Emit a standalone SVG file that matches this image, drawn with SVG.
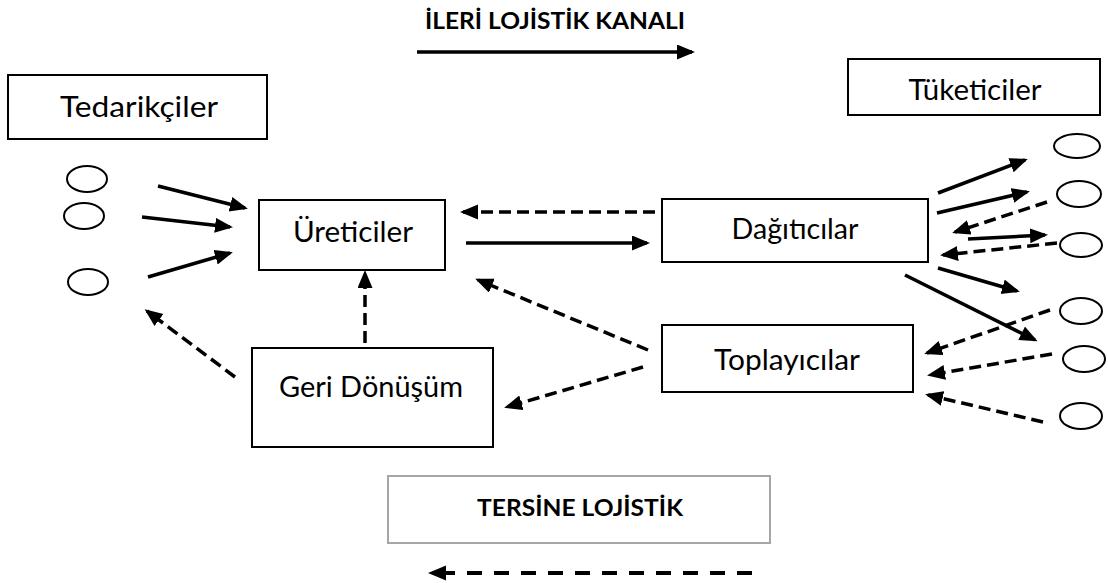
<svg xmlns="http://www.w3.org/2000/svg" width="1108" height="583" viewBox="0 0 1108 583">
<style>
.box{fill:#fff;stroke:#000;stroke-width:2}
.lbl{font-family:Lato,"Open Sans",sans-serif;font-size:28px;fill:#000;text-anchor:middle}
.hdr{font-family:Lato,"Open Sans",sans-serif;font-size:22px;font-weight:bold;fill:#000;text-anchor:middle}
.ell{fill:#fff;stroke:#000;stroke-width:2}
.sol{stroke:#000;stroke-width:3.5;fill:none;marker-end:url(#ah)}
.dsh{stroke:#000;stroke-width:3.5;fill:none;stroke-dasharray:12 6;marker-end:url(#ah)}
</style>
<defs>
<marker id="ah" markerUnits="userSpaceOnUse" markerWidth="18" markerHeight="16" refX="15" refY="7.5" orient="auto">
<path d="M0,0 L18,7.5 L0,15 z" fill="#000"/>
</marker>
</defs>
<rect width="1108" height="583" fill="#fff"/>

<g id="title">
<text class="hdr" x="555" y="29" textLength="260" lengthAdjust="spacingAndGlyphs">İLERİ LOJİSTİK KANALI</text>
</g>

<g id="tedarikciler">
<rect class="box" x="8" y="75" width="259" height="64"/>
<text class="lbl" x="139" y="117" textLength="158" lengthAdjust="spacingAndGlyphs">Tedarikçiler</text>
</g>
<g id="tedarikci-nodes">
<ellipse class="ell" cx="87" cy="179" rx="20" ry="13"/>
<ellipse class="ell" cx="84" cy="216" rx="20" ry="13"/>
<ellipse class="ell" cx="88" cy="282" rx="20" ry="13"/>
</g>

<g id="ureticiler">
<rect class="box" x="259" y="200" width="186" height="70"/>
<text class="lbl" x="353" y="242" textLength="120" lengthAdjust="spacingAndGlyphs">Üreticiler</text>
</g>

<g id="dagiticilar">
<rect class="box" x="662" y="199" width="266" height="63"/>
<text class="lbl" x="795" y="239" textLength="127" lengthAdjust="spacingAndGlyphs">Dağıtıcılar</text>
</g>

<g id="tuketiciler">
<rect class="box" x="848" y="59" width="252" height="56"/>
<text class="lbl" x="975" y="100" textLength="133" lengthAdjust="spacingAndGlyphs">Tüketiciler</text>
</g>
<g id="tuketici-nodes">
<ellipse class="ell" cx="1077" cy="146" rx="23" ry="12"/>
<ellipse class="ell" cx="1079" cy="194" rx="22" ry="13"/>
<ellipse class="ell" cx="1081" cy="245" rx="21" ry="12"/>
<ellipse class="ell" cx="1081" cy="311" rx="21" ry="13"/>
<ellipse class="ell" cx="1084" cy="359" rx="21" ry="13"/>
<ellipse class="ell" cx="1081" cy="416" rx="21" ry="13"/>
</g>

<g id="toplayicilar">
<rect class="box" x="662" y="325" width="251" height="67"/>
<text class="lbl" x="787" y="370" textLength="146" lengthAdjust="spacingAndGlyphs">Toplayıcılar</text>
</g>

<g id="geri-donusum">
<rect class="box" x="252" y="348" width="241" height="99"/>
<text class="lbl" x="371" y="397" textLength="184" lengthAdjust="spacingAndGlyphs">Geri Dönüşüm</text>
</g>

<g id="tersine-lojistik">
<rect x="388" y="476" width="382" height="67" fill="#fff" stroke="#a6a6a6" stroke-width="2"/>
<text class="hdr" x="580" y="516" textLength="206" lengthAdjust="spacingAndGlyphs">TERSİNE LOJİSTİK</text>
</g>

<g id="connectors">
<line class="sol" x1="417" y1="52" x2="692" y2="52"/>
<line class="sol" x1="158" y1="186" x2="245" y2="208"/>
<line class="sol" x1="142" y1="217" x2="230" y2="227"/>
<line class="sol" x1="148" y1="277" x2="230" y2="253"/>
<line class="sol" x1="466" y1="243" x2="647" y2="243"/>
<line class="sol" x1="938" y1="193" x2="1025" y2="160"/>
<line class="sol" x1="937" y1="213" x2="1027" y2="192"/>
<line class="sol" x1="968" y1="239" x2="1045" y2="235"/>
<line class="sol" x1="938" y1="268" x2="1017" y2="291"/>
<line class="sol" x1="905" y1="275" x2="1035" y2="340"/>
<line class="dsh" x1="655" y1="212" x2="463" y2="212"/>
<line class="dsh" x1="1047" y1="202" x2="955" y2="232"/>
<line class="dsh" x1="1057" y1="243" x2="943" y2="255"/>
<line class="dsh" x1="1050" y1="310" x2="927" y2="353"/>
<line class="dsh" x1="1052" y1="354" x2="930" y2="375"/>
<line class="dsh" x1="1043" y1="422" x2="928" y2="395"/>
<line class="dsh" x1="648" y1="350" x2="478" y2="280"/>
<line class="dsh" x1="643" y1="367" x2="507" y2="407"/>
<line class="dsh" x1="365" y1="343" x2="365" y2="273"/>
<line class="dsh" x1="235" y1="377" x2="147" y2="311"/>
<line stroke="#000" stroke-width="4" stroke-dasharray="15 12" x1="752" y1="573" x2="431" y2="573" marker-end="url(#ah)"/>
</g>
</svg>
